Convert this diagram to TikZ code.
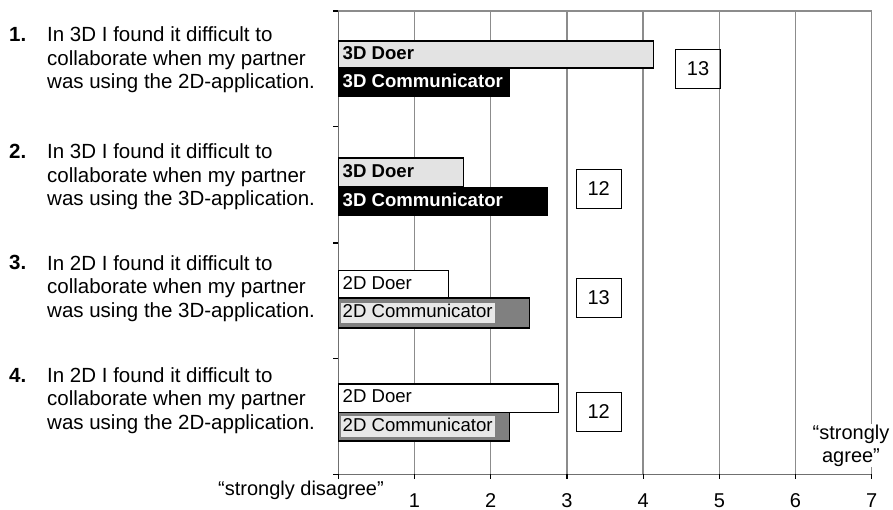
\documentclass[tikz,border=0pt]{standalone}
\usepackage{fontspec}
\setmainfont[Ligatures=NoCommon]{Liberation Sans}
\definecolor{gridgray}{HTML}{8C8C8C}
\definecolor{axisgray}{HTML}{707070}
\definecolor{doerfill}{HTML}{E3E3E3}
\definecolor{commgray}{HTML}{808080}
\definecolor{labelbg}{HTML}{E8E8E8}
\begin{document}
\begin{tikzpicture}[x=1pt,y=-1pt,
  gridline/.style={draw=gridgray,line width=1.3},
  axisline/.style={draw=axisgray,line width=1.5},
  tickmark/.style={draw=black,line width=1.2},
  doerthree/.style={fill=doerfill,draw=black,line width=1.6},
  commthree/.style={fill=black},
  doertwo/.style={fill=white,draw=black,line width=1.6},
  commtwo/.style={fill=commgray,draw=black,line width=1.6},
  barlbl/.style={anchor=west,inner xsep=2,inner ysep=1.5,text height=13.5,text depth=4,
                 font=\fontsize{18.6}{20}\selectfont},
  qnum/.style={anchor=base west,inner sep=0,font=\fontsize{20.5}{23.5}\selectfont\bfseries},
  qtext/.style={anchor=base west,inner sep=0,align=left,font=\fontsize{20.5}{23.5}\selectfont},
  countbox/.style={draw=black,line width=1.2,minimum width=45,minimum height=39,inner sep=0,
                   font=\fontsize{20}{23}\selectfont},
  ticklbl/.style={inner sep=0,font=\fontsize{20}{23}\selectfont}
]
\useasboundingbox (0,0) rectangle (893,510);

% scale: 0 at x=338.3, one unit = 76.2
\def\xo{338.3}
\def\ux{76.2}

% vertical grid lines 1..7
\foreach \i in {1,...,7}
  \draw[gridline] (\xo+\i*\ux,11) -- (\xo+\i*\ux,474.3);
% top frame
\draw[gridline] (\xo,11) -- (\xo+7*\ux,11);
% axes
\draw[axisline] (\xo,11) -- (\xo,474.3);
\draw[axisline] (\xo,474.3) -- (\xo+7*\ux,474.3);
% ticks
\foreach \y in {11,126.7,243,358.3,474.3}
  \draw[tickmark] (333,\y) -- (\xo,\y);
\foreach \i in {0,...,7}
  \draw[tickmark] (\xo+\i*\ux,474.3) -- (\xo+\i*\ux,479);

% bars, question 1
\path[doerthree] (\xo,41) rectangle (653.3,68);
\path[commthree] (\xo,68) rectangle (510,97);
% bars, question 2
\path[doerthree] (\xo,158.3) rectangle (463.3,186.7);
\path[commthree] (\xo,186.7) rectangle (548,216);
% bars, question 3
\path[doertwo] (\xo,270.7) rectangle (448.3,298);
\path[commtwo] (\xo,298) rectangle (529.3,327.7);
% bars, question 4
\path[doertwo] (\xo,384) rectangle (558.3,412.3);
\path[commtwo] (\xo,412.3) rectangle (509.3,440.7);

% bar labels
\node[barlbl,font=\fontsize{18.6}{20}\selectfont\bfseries] (d1) at (340.5,54.5) {3D Doer};
\node[barlbl,font=\fontsize{18.6}{20}\selectfont\bfseries,text=white] (c1) at (340.5,82.5) {3D Communicator};
\node[barlbl,font=\fontsize{18.6}{20}\selectfont\bfseries] (d2) at (340.5,172.5) {3D Doer};
\node[barlbl,font=\fontsize{18.6}{20}\selectfont\bfseries,text=white] (c2) at (340.5,201.3) {3D Communicator};
\node[barlbl] (d3) at (340.5,284.3) {2D Doer};
\node[barlbl,fill=labelbg] (c3) at (340.5,312.8) {2D Communicator};
\node[barlbl] (d4) at (340.5,398.2) {2D Doer};
\node[barlbl,fill=labelbg] (c4) at (340.5,426.5) {2D Communicator};

% respondent counts
\node[countbox] (n1) at (698,68.8) {13};
\node[countbox] (n2) at (598.7,189) {12};
\node[countbox] (n3) at (598.7,298) {13};
\node[countbox] (n4) at (598.7,411.7) {12};

% statements (a multi-line node sits on the baseline of its last line)
\node[qnum] (k1) at (9,42) {1.};
\node[qtext] (q1) at (47,89) {In 3D I found it difficult to\\collaborate when my partner\\was using the 2D-application.};
\node[qnum] (k2) at (9,159) {2.};
\node[qtext] (q2) at (47,206) {In 3D I found it difficult to\\collaborate when my partner\\was using the 3D-application.};
\node[qnum] (k3) at (9,270) {3.};
\node[qtext] (q3) at (47,317) {In 2D I found it difficult to\\collaborate when my partner\\was using the 3D-application.};
\node[qnum] (k4) at (9,382) {4.};
\node[qtext] (q4) at (47,429) {In 2D I found it difficult to\\collaborate when my partner\\was using the 2D-application.};

% axis labels
\foreach \i in {1,...,7}
  \node[ticklbl] (t\i) at (\xo+\i*\ux,501) {\i};
\node[ticklbl,anchor=east] (lo) at (384,490) {“strongly disagree”};
\node[ticklbl,fill=white,align=center,inner sep=1] (hi) at (851,445.5) {“strongly\\agree”};
\end{tikzpicture}
\end{document}
